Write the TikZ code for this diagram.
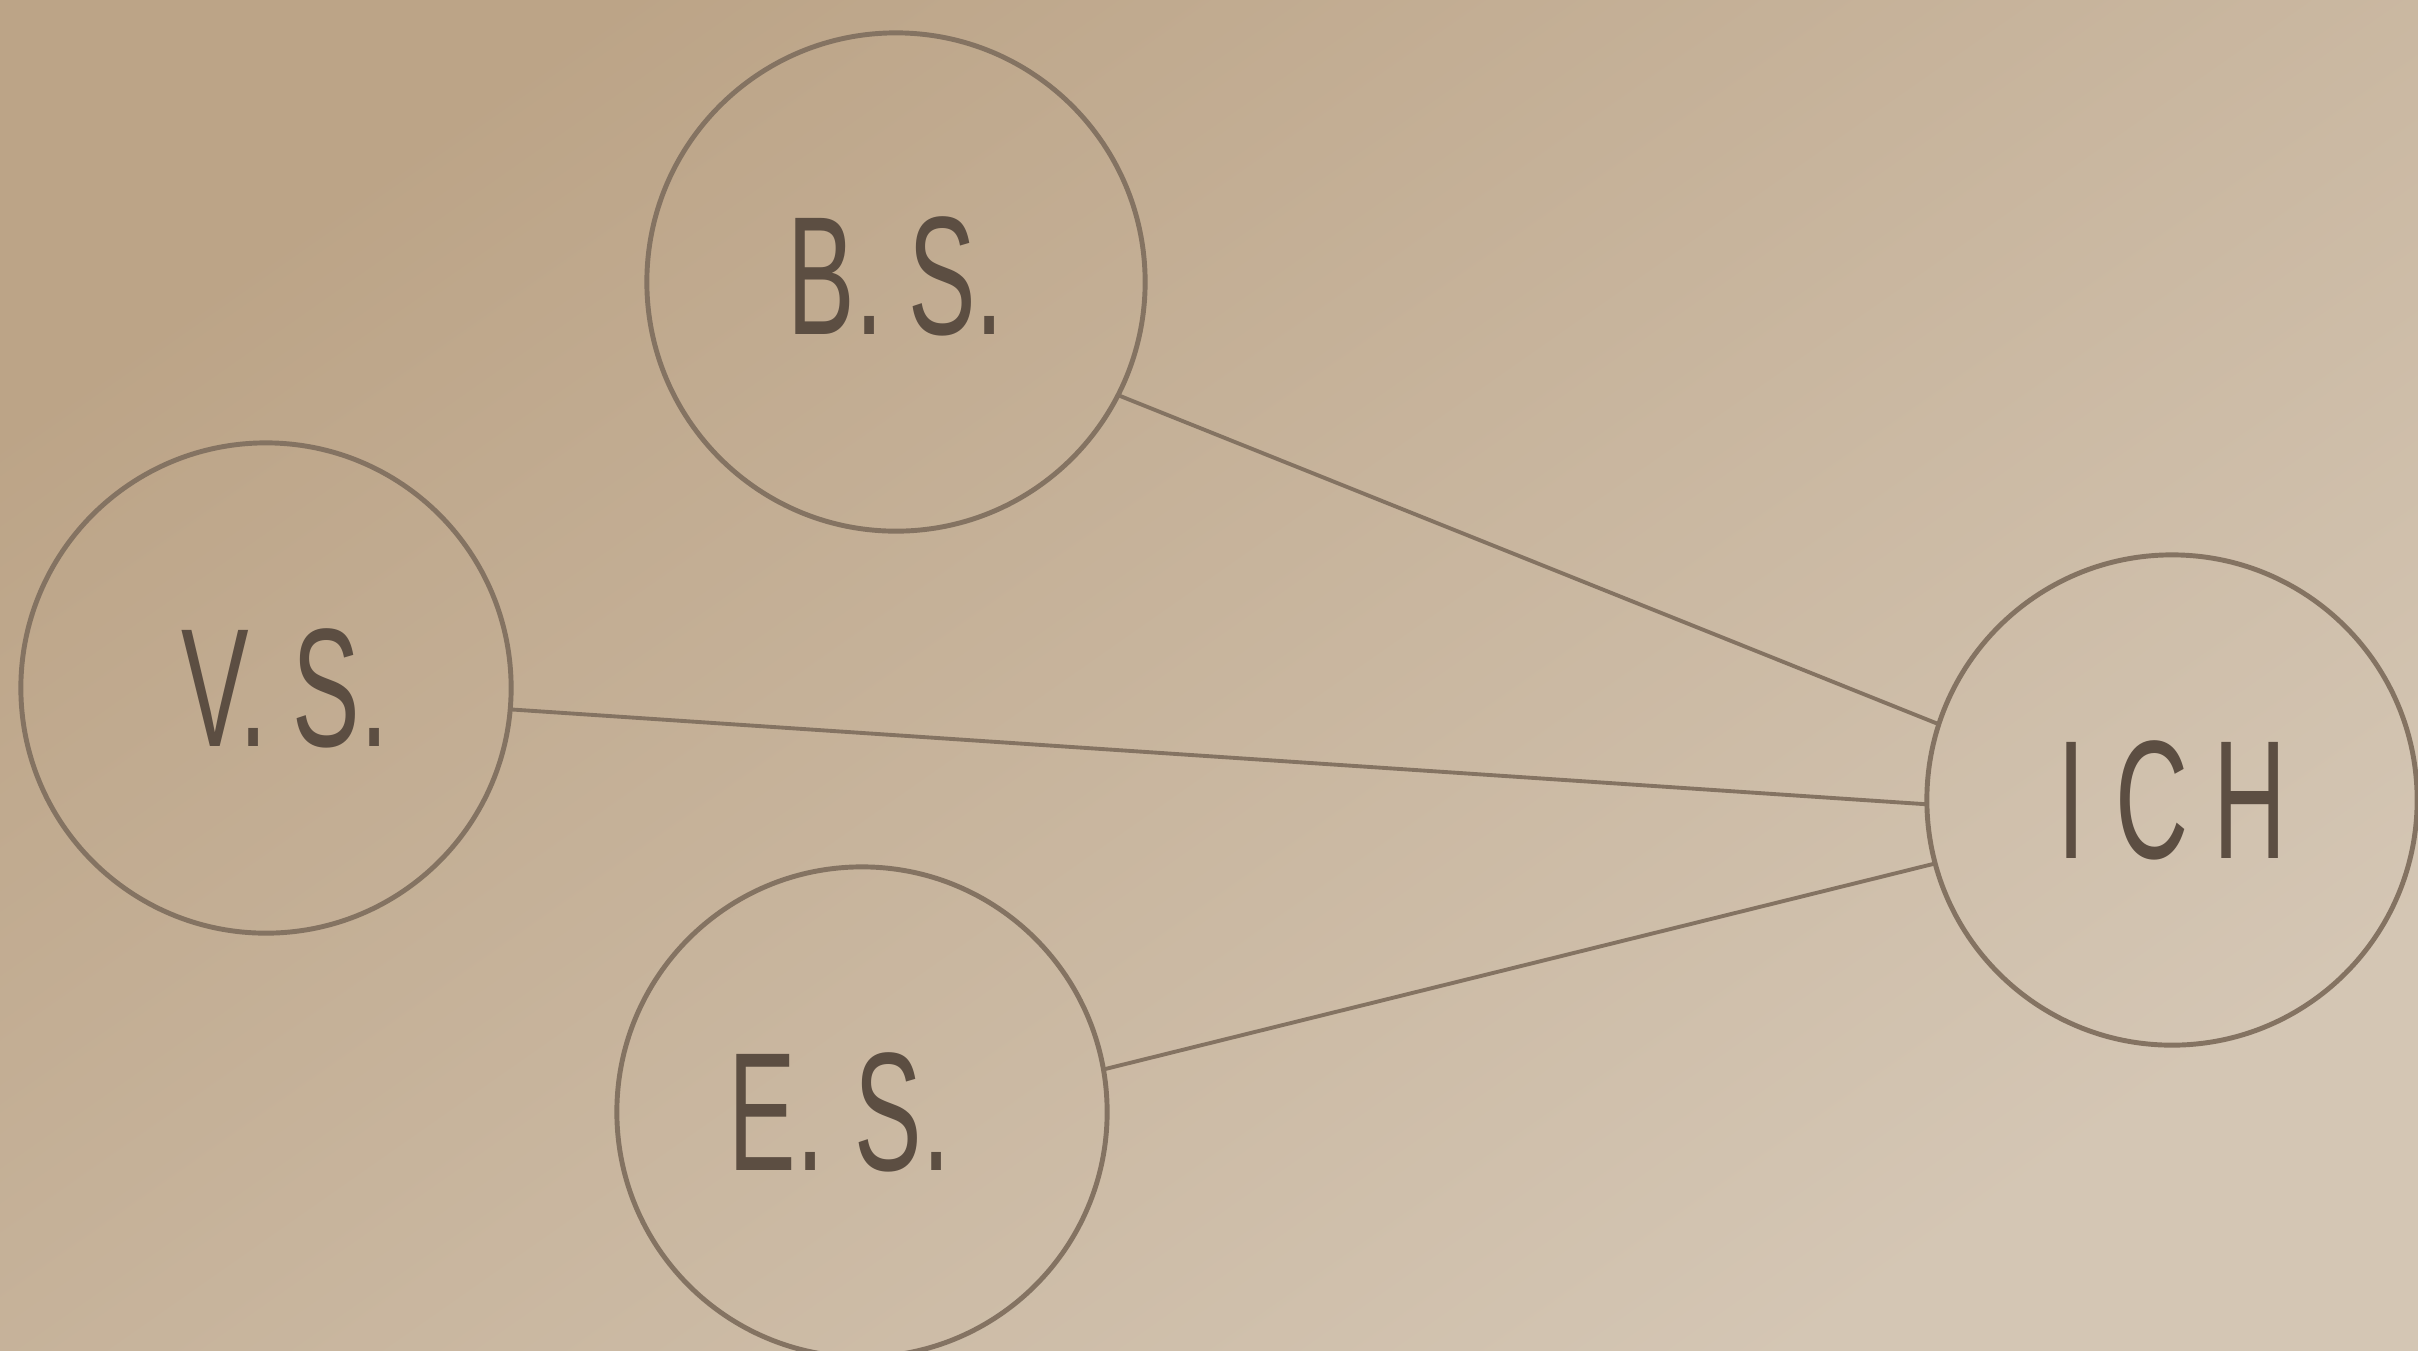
\documentclass[tikz,border=0pt]{standalone}
\usepackage{fontspec}
\newfontfamily\hand[FakeStretch=0.6]{Liberation Sans}
\definecolor{paperA}{RGB}{188,164,135}
\definecolor{paperB}{RGB}{212,198,180}
\definecolor{pencil}{RGB}{132,115,98}
\definecolor{ink}{RGB}{92,78,66}
\begin{document}
\begin{tikzpicture}[x=0.01cm,y=-0.01cm,
  bubble/.style={circle, draw=pencil, line width=1.4pt, inner sep=0pt, outer sep=0pt,
    minimum size=#1, text=ink, font=\hand\fontsize{48}{50}\selectfont},
  link/.style={draw=pencil, line width=1.1pt, line cap=round}]
\useasboundingbox (0,0) rectangle (2418,1350);
\clip (0,0) rectangle (2418,1350);
\shade[top color=paperA, bottom color=paperB, shading angle=35] (0,0) rectangle (2418,1350);
\node[bubble=4.98cm] (bs) at (896,282) {\raisebox{0.12cm}{B.\hspace{0.25cm}S.}};
\node[bubble=4.9cm] (vs) at (266,688) {\hspace*{0.38cm}V.\hspace{0.25cm}S.};
\node[bubble=4.9cm] (es) at (862,1112) {E.\hspace{0.3cm}S.\hspace*{0.45cm}};
\node[bubble=4.9cm] (ich) at (2172,800) {I\hspace{0.3cm}C\hspace{0.25cm}H};
\draw[link] (bs.-27.5) -- (ich.162.7);
\draw[link] (vs.-5) -- (ich.181);
\draw[link] (es.10) -- (ich.195.4);
\end{tikzpicture}
\end{document}
